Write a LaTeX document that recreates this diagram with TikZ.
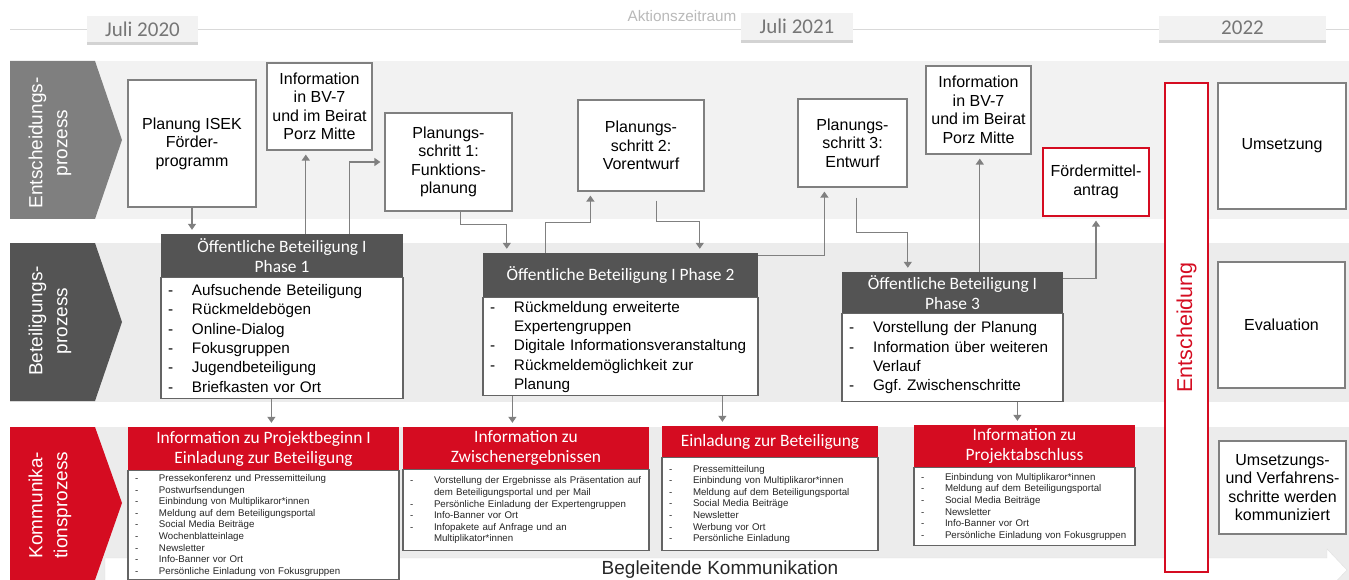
\documentclass[tikz,border=0pt]{standalone}
\usepackage{fontspec}
\setmainfont{Liberation Sans}
\newfontfamily\calibri{Carlito}
\usepackage{xcolor}
\usepackage{tikz}
\usetikzlibrary{arrows.meta, positioning, shadows}
\frenchspacing

\definecolor{bandlight}{RGB}{242,242,242}
\definecolor{bandgrey}{RGB}{236,236,236}
\definecolor{chevgrey}{RGB}{127,127,127}
\definecolor{headgrey}{RGB}{84,84,84}
\definecolor{cityred}{RGB}{213,12,33}
\definecolor{linegrey}{RGB}{128,128,128}
\definecolor{listgrey}{RGB}{100,100,100}
\definecolor{datetext}{RGB}{118,118,118}

\newcommand{\dashitem}[1]{\makebox[24pt][l]{-}#1}
\newcommand{\dashcont}[1]{\hspace*{24pt}#1}

\begin{document}
\begin{tikzpicture}[x=1pt, y=-1pt, node distance=0pt]
        % Stijlen
        \tikzstyle{stepbox} = [rectangle, draw=linegrey, line width=1.2pt, fill=white, align=center, font=\fontsize{16}{18.5}\selectfont, inner sep=2pt]
        \tikzstyle{redbox} = [stepbox, draw=cityred]
        \tikzstyle{chevtext} = [rotate=90, align=center, text=white, font=\fontsize{19}{25}\selectfont]
        \tikzstyle{datebox} = [rectangle, fill=bandlight, text=datetext, font=\calibri\fontsize{21}{24}\selectfont, drop shadow={shadow xshift=0pt, shadow yshift=-3pt, opacity=.35}]
        \tikzstyle{headbox} = [rectangle, fill=headgrey, text=white, align=center, font=\calibri\fontsize{17.4}{20}\selectfont, inner sep=0pt]
        \tikzstyle{headred} = [headbox, fill=cityred]
        \tikzstyle{listbox} = [rectangle, draw=listgrey, line width=1.2pt, fill=white, align=left, font=\fontsize{15.3}{19.3}\selectfont, inner xsep=7pt, inner ysep=2pt]
        \tikzstyle{smalllist} = [listbox, text=black!85, font=\fontsize{9.7}{11.6}\selectfont]
        \tikzstyle{arrow} = [draw=linegrey, line width=1.3pt, -{Triangle[width=8pt,length=6pt]}, shorten >=4pt]

        \useasboundingbox (0,0) rectangle (1349,580);

        % Achtergrond
        \draw[gray!30, line width=1pt] (10,30) -- (1349,30);
        \fill[bandlight] (10,61) rectangle (1349,219);
        \fill[bandgrey] (10,243) rectangle (1349,402);
        \fill[bandgrey] (10,427) rectangle (1349,580);
        \fill[chevgrey] (10,61) -- (95,61) -- (122,140) -- (95,219) -- (10,219) -- cycle;
        \fill[headgrey] (10,243) -- (95,243) -- (122,322) -- (95,401) -- (10,401) -- cycle;
        \fill[cityred] (10,427) -- (95,427) -- (122,503) -- (95,580) -- (10,580) -- cycle;
        \filldraw[fill=white, draw=gray!25] (105,558) -- (1327,558) -- (1327,549) -- (1347,570) -- (1327,591) -- (1327,582) -- (105,582) -- cycle;

        \node[chevtext] (proc1) at (50,143) {Entscheidungs-\\prozess};
        \node[chevtext] (proc2) at (50,321) {Beteiligungs-\\prozess};
        \node[chevtext] (proc3) at (50,505) {Kommunika-\\tionsprozess};
        \node[text=black!85, font=\fontsize{19}{22}\selectfont] (begleit) at (720,570) {Begleitende Kommunikation};

        % Zeitleiste
        \node[datebox, minimum width=111pt, minimum height=26pt] (j2020) at (142.5,29) {Juli 2020};
        \node[datebox, minimum width=112pt, minimum height=27pt] (j2021) at (797,26.5) {Juli 2021};
        \node[datebox, minimum width=167pt, minimum height=24pt] (y2022) at (1242.5,28) {2022};
        \node[text=gray!55, font=\fontsize{15.3}{18}\selectfont] (aktion) at (682,16) {Aktionszeitraum};

        % Knopen plaatsen
        \node[stepbox, minimum width=128pt, minimum height=127pt] (isek) at (192,143.5) {Planung ISEK\\Förder-\\programm};
        \node[stepbox, minimum width=105pt, minimum height=87pt] (info1) at (319.5,106.5) {Information\\in BV-7\\und im Beirat\\Porz Mitte};
        \node[stepbox, minimum width=127pt, minimum height=98pt] (plan1) at (448.5,162) {Planungs-\\schritt 1:\\Funktions-\\planung};
        \node[stepbox, minimum width=126pt, minimum height=91pt] (plan2) at (641,145.5) {Planungs-\\schritt 2:\\Vorentwurf};
        \node[stepbox, minimum width=109pt, minimum height=88pt] (plan3) at (852.5,143) {Planungs-\\schritt 3:\\Entwurf};
        \node[stepbox, minimum width=105pt, minimum height=88pt] (info2) at (978.5,110) {Information\\in BV-7\\und im Beirat\\Porz Mitte};
        \node[redbox, minimum width=106pt, minimum height=68pt] (foerder) at (1096,182) {Fördermittel-\\antrag};
        \node[redbox, rotate=90, minimum width=489pt, minimum height=43pt, text=cityred, font=\fontsize{21.5}{24}\selectfont] (entsch) at (1186.5,327.5) {Entscheidung};
        \node[stepbox, minimum width=128pt, minimum height=126pt] (umsetz) at (1282,146) {Umsetzung};
        \node[stepbox, minimum width=127pt, minimum height=126pt] (eval) at (1281.5,325) {Evaluation};
        \node[stepbox, minimum width=127pt, minimum height=93pt] (kommun) at (1282.5,487.5) {Umsetzungs-\\und Verfahrens-\\schritte werden\\kommuniziert};

        \node[headbox, minimum width=242pt, minimum height=43pt] (p1head) at (282,255.5) {Öffentliche Beteiligung I\\Phase 1};
        \node[listbox, text width=228pt, minimum height=121pt, below=of p1head] (p1list) {\dashitem{Aufsuchende Beteiligung}\\\dashitem{Rückmeldebögen}\\\dashitem{Online-Dialog}\\\dashitem{Fokusgruppen}\\\dashitem{Jugendbeteiligung}\\\dashitem{Briefkasten vor Ort}};
        \node[headbox, minimum width=275pt, minimum height=44pt] (p2head) at (620.5,275) {Öffentliche Beteiligung I Phase 2};
        \node[listbox, text width=261pt, minimum height=98pt, below=of p2head] (p2list) {\dashitem{Rückmeldung erweiterte}\\\dashcont{Expertengruppen}\\\dashitem{Digitale Informationsveranstaltung}\\\dashitem{Rückmeldemöglichkeit zur}\\\dashcont{Planung}};
        \node[headbox, minimum width=221pt, minimum height=41pt] (p3head) at (952.5,292.5) {Öffentliche Beteiligung I\\Phase 3};
        \node[listbox, text width=207pt, minimum height=88pt, below=of p3head] (p3list) {\dashitem{Vorstellung der Planung}\\\dashitem{Information über weiteren}\\\dashcont{Verlauf}\\\dashitem{Ggf. Zwischenschritte}};

        \node[headred, minimum width=271pt, minimum height=43pt] (kh1head) at (263.5,448.5) {Information zu Projektbeginn I\\Einladung zur Beteiligung};
        \node[smalllist, text width=257pt, minimum height=109pt, below=of kh1head] (kh1list) {\dashitem{Pressekonferenz und Pressemitteilung}\\\dashitem{Postwurfsendungen}\\\dashitem{Einbindung von Multiplikaror*innen}\\\dashitem{Meldung auf dem Beteiligungsportal}\\\dashitem{Social Media Beiträge}\\\dashitem{Wochenblatteinlage}\\\dashitem{Newsletter}\\\dashitem{Info-Banner vor Ort}\\\dashitem{Persönliche Einladung von Fokusgruppen}};
        \node[headred, minimum width=246pt, minimum height=42pt] (kh2head) at (526,448) {Information zu\\Zwischenergebnissen};
        \node[smalllist, text width=232pt, minimum height=81pt, below=of kh2head] (kh2list) {\dashitem{Vorstellung der Ergebnisse als Präsentation auf}\\\dashcont{dem Beteiligungsportal und per Mail}\\\dashitem{Persönliche Einladung der Expertengruppen}\\\dashitem{Info-Banner vor Ort}\\\dashitem{Infopakete auf Anfrage und an}\\\dashcont{Multiplikator*innen}};
        \node[headred, minimum width=216pt, minimum height=31pt] (kh3head) at (770,441.5) {Einladung zur Beteiligung};
        \node[smalllist, text width=202pt, minimum height=93pt, below=of kh3head] (kh3list) {\dashitem{Pressemitteilung}\\\dashitem{Einbindung von Multiplikaror*innen}\\\dashitem{Meldung auf dem Beteiligungsportal}\\\dashitem{Social Media Beiträge}\\\dashitem{Newsletter}\\\dashitem{Werbung vor Ort}\\\dashitem{Persönliche Einladung}};
        \node[headred, minimum width=221pt, minimum height=42pt] (kh4head) at (1024.5,446) {Information zu\\Projektabschluss};
        \node[smalllist, text width=207pt, minimum height=78pt, below=of kh4head] (kh4list) {\dashitem{Einbindung von Multiplikaror*innen}\\\dashitem{Meldung auf dem Beteiligungsportal}\\\dashitem{Social Media Beiträge}\\\dashitem{Newsletter}\\\dashitem{Info-Banner vor Ort}\\\dashitem{Persönliche Einladung von Fokusgruppen}};

        % Pijlen tekenen
        \coordinate (p1a) at ([xshift=145pt]p1head.north west);
        \coordinate (p1b) at ([xshift=189pt]p1head.north west);
        \coordinate (p3a) at ([xshift=138pt]p3head.north west);
        \coordinate (d1) at ([xshift=111pt]p1list.south west);
        \coordinate (d2) at ([xshift=30pt]p2list.south west);
        \coordinate (d3) at ([xshift=240pt]p2list.south west);
        \coordinate (d4) at ([xshift=176pt]p3list.south west);

        \draw[arrow] (isek) -- (isek |- p1head.north);
        \draw[arrow] (p1a) -- (p1a |- info1.south);
        \draw[arrow] (p1b) |- (plan1);
        \draw[arrow] ([xshift=76pt]plan1.south west) -- ++(0,13) -| ([xshift=24pt]p2head.north west);
        \draw[arrow] ([xshift=63pt]p2head.north west) -- ++(0,-30) -| ([xshift=13pt]plan2.south west);
        \draw[arrow, shorten <=9pt] ([xshift=79pt]plan2.south west) -- ++(0,30) -| ([xshift=217pt]p2head.north west);
        \draw[arrow] ([yshift=-3pt]p2head.north east) -| ([xshift=27pt]plan3.south west);
        \draw[arrow, shorten <=10pt] ([xshift=59pt]plan3.south west) -- ++(0,45) -| ([xshift=66pt]p3head.north west);
        \draw[arrow] (p3a) -- (p3a |- info2.south);
        \draw[arrow] ([yshift=-7pt]p3head.north east) -| (foerder);
        \draw[arrow] (d1) -- (d1 |- kh1head.north);
        \draw[arrow] (d2) -- (d2 |- kh2head.north);
        \draw[arrow] (d3) -- (d3 |- kh3head.north);
        \draw[arrow] (d4) -- (d4 |- kh4head.north);

    \end{tikzpicture}
\end{document}
